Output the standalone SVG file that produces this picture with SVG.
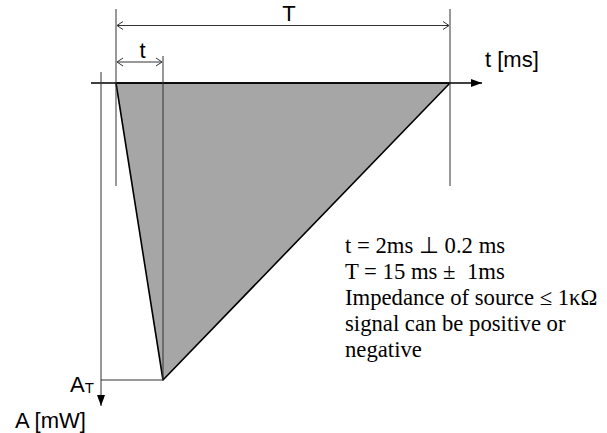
<svg xmlns="http://www.w3.org/2000/svg" width="607" height="433" viewBox="0 0 607 433">
<style>
.ln{stroke:#333;stroke-width:1;fill:none}
.ax{stroke:#000;stroke-width:1.6;fill:none}
.sans{font-family:"Liberation Sans",Arial,sans-serif;fill:#000;font-size:22px}
.serif{font-family:"Liberation Serif","Times New Roman",serif;fill:#000;font-size:22.7px}
</style>
<defs>
<marker id="open" markerWidth="8" markerHeight="10" refX="7" refY="5" orient="auto-start-reverse" markerUnits="userSpaceOnUse">
<path d="M1,1 L7,5 L1,9" fill="none" stroke="#333" stroke-width="1"/>
</marker>
<marker id="solid" markerWidth="12" markerHeight="10" refX="11" refY="5" orient="auto" markerUnits="userSpaceOnUse">
<path d="M0,1 L11,5 L0,9 Z" fill="#000"/>
</marker>
</defs>
<g id="pulse">
<polygon points="116,83 450,83 163,380" fill="#a6a6a6" stroke="#000" stroke-width="1.6" stroke-linejoin="round"/>
</g>
<g id="connectors">
<line class="ax" x1="91" y1="83" x2="482" y2="83" marker-end="url(#solid)"/>
<line class="ln" x1="101" y1="72" x2="101" y2="406" stroke="#000" marker-end="url(#solid)"/>
<line class="ln" x1="116" y1="9" x2="116" y2="186"/>
<line class="ln" x1="163" y1="56" x2="163" y2="380"/>
<line class="ln" x1="450" y1="9" x2="450" y2="186"/>
<line class="ln" x1="101" y1="380" x2="163" y2="380"/>
<line class="ln" x1="117" y1="25.5" x2="449" y2="25.5" marker-start="url(#open)" marker-end="url(#open)"/>
<line class="ln" x1="117" y1="62" x2="162" y2="62" marker-start="url(#open)" marker-end="url(#open)"/>
</g>
<g id="labels">
<text class="sans" x="289" y="21" text-anchor="middle">T</text>
<text class="sans" x="142.5" y="58" text-anchor="middle">t</text>
<text class="sans" x="485" y="67">t [ms]</text>
<text class="sans" x="70" y="392" font-size="24">A<tspan font-size="15" dy="1">T</tspan></text>
<text class="sans" x="15" y="428">A [mW]</text>
</g>
<g id="notes" class="serif">
<text x="345" y="253">t = 2ms ⊥ 0.2 ms</text>
<text x="345" y="279" xml:space="preserve">T = 15 ms ±  1ms</text>
<text x="345" y="305">Impedance of source ≤ 1κΩ</text>
<text x="345" y="331">signal can be positive or</text>
<text x="345" y="357">negative</text>
</g>
</svg>
